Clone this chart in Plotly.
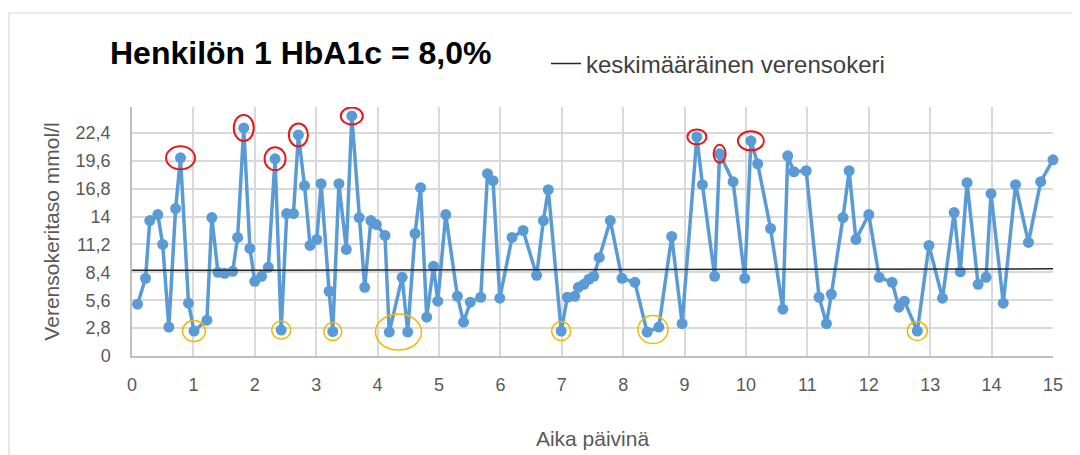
import plotly.graph_objects as go

# ---- data ----
days = [0.09, 0.22, 0.29, 0.42, 0.50, 0.60, 0.71, 0.79, 0.92,
        1.01, 1.22, 1.30, 1.40, 1.51, 1.64, 1.72, 1.82, 1.92, 2.00,
        2.11, 2.22, 2.33, 2.43, 2.52, 2.63, 2.71, 2.81, 2.90, 3.01,
        3.08, 3.21, 3.27, 3.37, 3.49, 3.58, 3.70, 3.79, 3.89, 3.98,
        4.12, 4.19, 4.40, 4.49, 4.61, 4.70, 4.80, 4.91, 4.98, 5.11,
        5.30, 5.40, 5.51, 5.68, 5.79, 5.88, 5.99, 6.19, 6.37, 6.59,
        6.70, 6.78, 6.99, 7.09, 7.21, 7.27, 7.36, 7.44, 7.52, 7.61,
        7.79, 7.98, 8.19, 8.39, 8.58, 8.79, 8.96, 9.20, 9.29, 9.49,
        9.57, 9.79, 9.98, 10.08, 10.19, 10.40, 10.60, 10.68, 10.78, 10.98,
        11.19, 11.31, 11.39, 11.58, 11.68, 11.79, 12.00, 12.17, 12.38, 12.49,
        12.58, 12.79, 12.98, 13.20, 13.39, 13.49, 13.60, 13.78, 13.91, 13.99,
        14.19, 14.39, 14.60, 14.80, 15.00]

glucose = [5.2, 7.8, 13.6, 14.2, 11.2, 2.9, 14.8, 19.9, 5.3,
           2.5, 3.6, 13.9, 8.4, 8.3, 8.5, 11.9, 22.9, 10.8, 7.5,
           8.0, 8.9, 19.8, 2.6, 14.3, 14.3, 22.2, 17.1, 11.1, 11.7,
           17.3, 6.5, 2.45, 17.3, 10.7, 24.1, 13.9, 6.9, 13.6, 13.2,
           12.1, 2.4, 7.9, 2.4, 12.3, 16.9, 3.9, 9.0, 5.5, 14.2,
           6.0, 3.4, 5.4, 5.9, 18.3, 17.6, 5.8, 11.9, 12.6, 8.1,
           13.6, 16.7, 2.5, 5.9, 6.0, 6.9, 7.2, 7.7, 8.0, 9.9,
           13.6, 7.8, 7.4, 2.4, 2.9, 12.0, 3.25, 22.0, 17.2, 8.0,
           20.3, 17.5, 7.8, 21.6, 19.3, 12.8, 4.7, 20.1, 18.5, 18.6,
           5.9, 3.25, 6.2, 13.9, 18.6, 11.7, 14.2, 7.9, 7.4, 4.9,
           5.5, 2.5, 11.1, 5.8, 14.4, 8.45, 17.4, 7.2, 7.9, 16.3,
           5.3, 17.2, 11.4, 17.5, 19.7]

mean_days = [0, 15]
mean_glucose = [8.6, 8.75]

x_ticks = list(range(0, 16))
y_ticks = [0, 2.8, 5.6, 8.4, 11.2, 14, 16.8, 19.6, 22.4]
y_tick_labels = ["0", "2,8", "5,6", "8,4", "11,2", "14", "16,8", "19,6", "22,4"]

# highlighted readings (by day)
high_groups = [[0.79], [1.82], [2.33], [2.71], [3.58], [9.20], [9.57], [10.08]]
low_groups = [[1.01], [2.43], [3.27], [4.19, 4.49], [6.99], [8.39, 8.58], [12.79]]

# ---- styles ----
high_sizes = [(29, 23), (20, 26), (21, 23), (19, 23), (22, 17), (19, 15), (12, 18), (26, 19)]
low_sizes = [(23, 21), (19, 18), (18, 18), (46, 36), (19, 19), (30, 28), (20, 19)]

FONT = "Liberation Sans, Arial, sans-serif"
BLUE = "#5B9BD5"
GRID = "#D9D9D9"
TXT = "#595959"
PAGE_OFFSET = 8  # default page margin of the html body

fig = go.Figure()
fig.add_trace(go.Scatter(
    x=days, y=glucose, mode="lines+markers",
    line=dict(color=BLUE, width=3.5),
    marker=dict(color=BLUE, size=11),
    showlegend=False, cliponaxis=False,
))
fig.add_trace(go.Scatter(
    x=mean_days, y=mean_glucose, mode="lines",
    line=dict(color="#262626", width=1.5),
    name="keskimääräinen verensokeri", showlegend=True,
))

lookup = dict(zip(days, glucose))


def ring(group, size, color, width):
    cx = sum(group) / len(group)
    cy = sum(lookup[d] for d in group) / len(group)
    w, h = size
    return dict(type="circle", xref="x", yref="y",
                xsizemode="pixel", ysizemode="pixel",
                xanchor=cx, yanchor=cy,
                x0=-w / 2, x1=w / 2, y0=-h / 2, y1=h / 2,
                line=dict(color=color, width=width), layer="above")


shapes = []
for g, s in zip(high_groups, high_sizes):
    shapes.append(ring(g, s, "#E21A1A", 2))
for g, s in zip(low_groups, low_sizes):
    shapes.append(ring(g, s, "#F2B705", 1.5))

# outer chart frame (partly cut off at right/bottom in the reference)
shapes.append(dict(type="rect", xref="paper", yref="paper",
                   x0=-0.1335, x1=1.2, y0=-0.6, y1=1.3775,
                   line=dict(color="#D9D9D9", width=1.2), layer="below"))

o = PAGE_OFFSET
fig.update_layout(
    width=1080, height=455,
    margin=dict(l=132 - o, r=27 + o, t=107 - o, b=99 + o, autoexpand=False),
    paper_bgcolor="white", plot_bgcolor="white",
    font=dict(family=FONT, color=TXT),
    title=dict(text="<b>Henkilön 1 HbA1c = 8,0%</b>",
               font=dict(family=FONT, size=32, color="black"),
               xref="container", yref="container",
               x=(110 - o) / 1080, xanchor="left", y=1 - (53 - o) / 455, yanchor="middle"),
    legend=dict(orientation="h", x=(546 - 132) / 921, xanchor="left",
                y=(356 - 64) / 249, yanchor="middle",
                font=dict(family=FONT, size=24, color="#404040"),
                bgcolor="rgba(0,0,0,0)", itemwidth=30),
    shapes=shapes,
    xaxis=dict(range=[0, 15], tickvals=x_ticks, ticktext=[str(t) for t in x_ticks],
               showgrid=True, gridcolor=GRID, gridwidth=1.5,
               showline=True, linecolor="#BFBFBF", linewidth=1.5,
               zeroline=False, ticks="", ticklabelstandoff=12, automargin=False,
               tickfont=dict(family=FONT, size=18, color=TXT),
               title=dict(text="Aika päivinä", standoff=37,
                          font=dict(family=FONT, size=21, color=TXT))),
    yaxis=dict(range=[0, 25], tickvals=y_ticks, ticktext=y_tick_labels,
               showgrid=True, gridcolor=GRID, gridwidth=1.5,
               showline=True, linecolor="#BFBFBF", linewidth=1.5,
               zeroline=False, ticks="", ticklabelstandoff=16, automargin=False,
               tickfont=dict(family=FONT, size=18, color=TXT),
               title=dict(text="Verensokeritaso mmol/l", standoff=10,
                          font=dict(family=FONT, size=21, color=TXT))),
)

fig.write_html("out.html")
